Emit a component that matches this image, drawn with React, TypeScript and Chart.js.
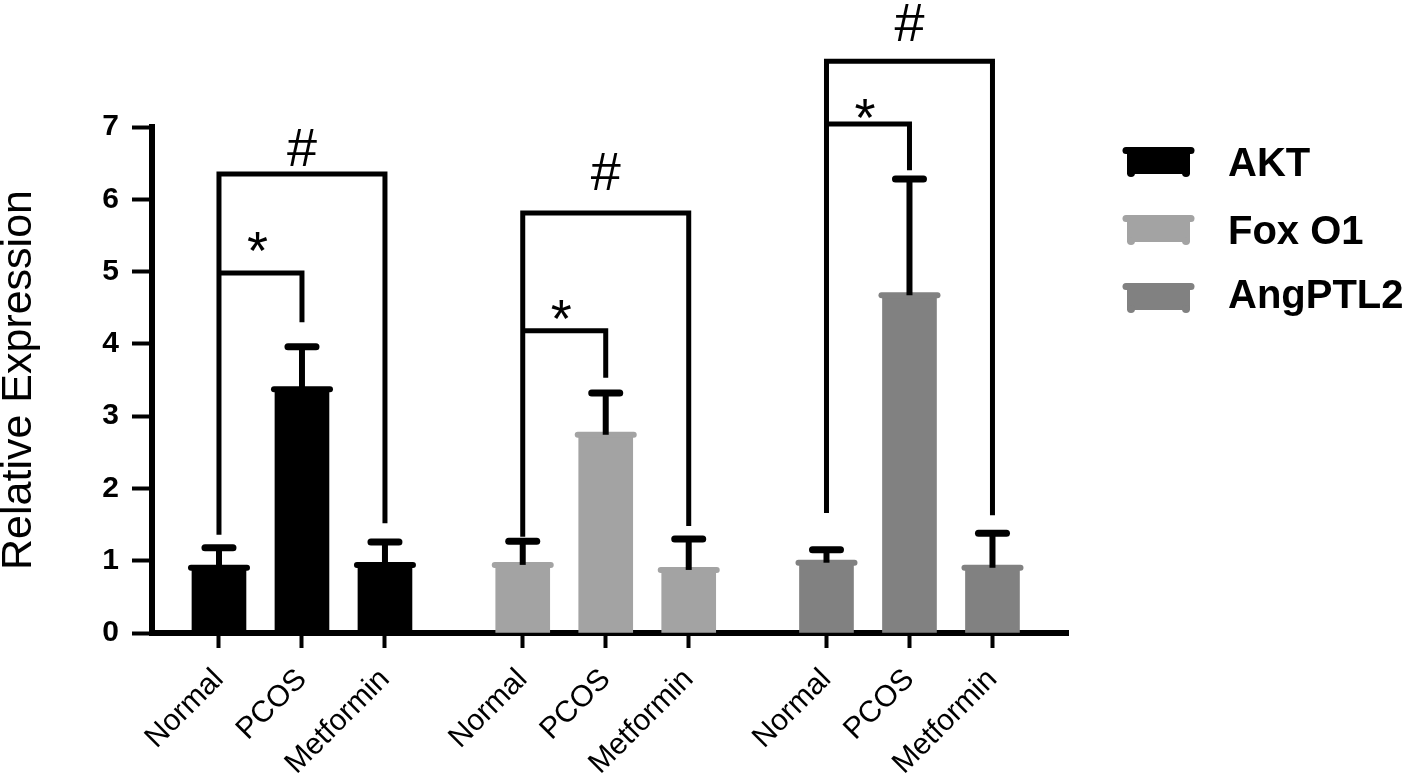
import React, { useEffect, useRef } from 'react';
import { Chart, registerables } from 'chart.js';

Chart.register(...registerables);

// ---------- data ----------
const genes = ['AKT', 'Fox O1', 'AngPTL2'];
const conditions = ['Normal', 'PCOS', 'Metformin'];
const aktMeans = [0.93, 3.4, 0.97];
const aktErrors = [0.25, 0.56, 0.29];
const foxMeans = [0.97, 2.77, 0.9];
const foxErrors = [0.3, 0.55, 0.4];
const angMeans = [1.0, 4.7, 0.93];
const angErrors = [0.15, 1.58, 0.45];
const yTickValues = [0, 1, 2, 3, 4, 5, 6, 7];

// significance brackets (y-axis units)
const hashLevels = [6.35, 5.81, 7.91];
const hashLeftEnds = [1.36, 1.33, 1.66];
const hashRightEnds = [1.52, 1.48, 1.63];
const hashLabelLevels = [6.71, 6.38, 8.45];
const starLevels = [4.98, 4.18, 7.04];
const starEnds = [4.3, 3.53, 6.4];
const starLabelLevels = [5.41, 4.47, 7.26];

// ---------- styling / layout ----------
const geneColors = ['#000000', '#a3a3a3', '#818181'];
const GROUP_SPACING = 3.66; // x-axis units between groups
const FONT = "'Liberation Sans', Arial, Helvetica, sans-serif";

const allMeans = [aktMeans, foxMeans, angMeans];
const allErrors = [aktErrors, foxErrors, angErrors];
const pos = (g: number, c: number) => g * GROUP_SPACING + c;
const tickPositions: number[] = [];
genes.forEach((_, g) => conditions.forEach((__, c) => tickPositions.push(pos(g, c))));

function centeredText(ctx: CanvasRenderingContext2D, text: string, x: number, cy: number, align: CanvasTextAlign) {
  ctx.textAlign = align;
  ctx.textBaseline = 'alphabetic';
  const m = ctx.measureText(text);
  const asc = m.actualBoundingBoxAscent;
  const desc = m.actualBoundingBoxDescent;
  ctx.fillText(text, x, cy + (asc - desc) / 2);
}

const overlayPlugin = {
  id: 'overlay',
  afterDatasetsDraw(chart: any) {
    const ctx: CanvasRenderingContext2D = chart.ctx;
    const xs = chart.scales.x;
    const ys = chart.scales.y;
    ctx.save();
    // bar lips and error bars
    chart.data.datasets.forEach((ds: any, di: number) => {
      const meta = chart.getDatasetMeta(di);
      meta.data.forEach((bar: any, i: number) => {
        const { x, y, width } = bar.getProps(['x', 'y', 'width'], true);
        ctx.strokeStyle = ds.backgroundColor;
        ctx.lineWidth = 6;
        ctx.lineCap = 'round';
        ctx.beginPath();
        ctx.moveTo(x - width / 2 - 1, y + 2);
        ctx.lineTo(x + width / 2 + 1, y + 2);
        ctx.stroke();

        const topPx = ys.getPixelForValue(allMeans[di][i] + allErrors[di][i]);
        ctx.strokeStyle = '#000';
        ctx.lineCap = 'butt';
        ctx.lineWidth = 6;
        ctx.beginPath();
        ctx.moveTo(x, y + 2);
        ctx.lineTo(x, topPx);
        ctx.stroke();
        ctx.lineCap = 'round';
        ctx.lineWidth = 7;
        ctx.beginPath();
        ctx.moveTo(x - 14, topPx);
        ctx.lineTo(x + 14, topPx);
        ctx.stroke();
      });
    });

    // significance brackets
    ctx.strokeStyle = '#000';
    ctx.fillStyle = '#000';
    ctx.lineWidth = 5;
    ctx.lineCap = 'butt';
    ctx.lineJoin = 'miter';
    genes.forEach((_, g) => {
      const xN = xs.getPixelForValue(pos(g, 0));
      const xP = xs.getPixelForValue(pos(g, 1));
      const xM = xs.getPixelForValue(pos(g, 2));
      const hy = ys.getPixelForValue(hashLevels[g]);
      ctx.beginPath();
      ctx.moveTo(xN, ys.getPixelForValue(hashLeftEnds[g]));
      ctx.lineTo(xN, hy);
      ctx.lineTo(xM, hy);
      ctx.lineTo(xM, ys.getPixelForValue(hashRightEnds[g]));
      ctx.stroke();
      const sy = ys.getPixelForValue(starLevels[g]);
      ctx.beginPath();
      ctx.moveTo(xN, sy);
      ctx.lineTo(xP, sy);
      ctx.lineTo(xP, ys.getPixelForValue(starEnds[g]));
      ctx.stroke();

      ctx.font = `54px ${FONT}`;
      centeredText(ctx, '#', (xN + xM) / 2, ys.getPixelForValue(hashLabelLevels[g]), 'center');
      centeredText(ctx, '*', (xN + xP) / 2 - 3, ys.getPixelForValue(starLabelLevels[g]), 'center');
    });
    ctx.restore();
  },
  afterDraw(chart: any) {
    const ctx: CanvasRenderingContext2D = chart.ctx;
    const area = chart.chartArea;
    ctx.save();
    genes.forEach((gene, g) => {
      const color = geneColors[g];
      const bx = area.right + 54;
      const cy = area.top + 35 + g * 68;
      const w = 73;
      const h = 30;
      const top = cy - h / 2;
      const bottom = cy + h / 2;
      ctx.fillStyle = color;
      ctx.fillRect(bx + 5, top + 3, w - 10, h - 6);
      ctx.strokeStyle = color;
      ctx.lineWidth = 7;
      ctx.lineCap = 'round';
      ctx.beginPath();
      ctx.moveTo(bx + 4, top + 3.5);
      ctx.lineTo(bx + w - 4, top + 3.5);
      ctx.stroke();
      ctx.beginPath();
      ctx.arc(bx + 9, bottom - 4, 4, 0, Math.PI * 2);
      ctx.fill();
      ctx.beginPath();
      ctx.arc(bx + w - 9, bottom - 4, 4, 0, Math.PI * 2);
      ctx.fill();

      ctx.fillStyle = '#000';
      ctx.font = `bold 40px ${FONT}`;
      centeredText(ctx, gene, bx + 106, cy, 'left');
    });
    ctx.restore();
  },
};

export default function App() {
  const canvasRef = useRef<HTMLCanvasElement | null>(null);

  useEffect(() => {
    if (!canvasRef.current) return;
    Chart.defaults.font.family = FONT;
    Chart.defaults.color = '#000';
    const datasets = genes.map((gene, g) => ({
      label: gene,
      data: allMeans[g].map((v, c) => ({ x: pos(g, c), y: v })),
      backgroundColor: geneColors[g],
      borderWidth: 0,
      barThickness: 54,
      grouped: false,
    }));
    const chart = new Chart(canvasRef.current, {
      type: 'bar',
      data: { datasets },
      plugins: [overlayPlugin],
      options: {
        animation: false,
        responsive: true,
        maintainAspectRatio: false,
        layout: { padding: { top: 127, right: 350, bottom: 0, left: 0 } },
        plugins: {
          legend: { display: false },
          tooltip: { enabled: false },
        },
        scales: {
          x: {
            type: 'linear',
            min: -0.807,
            max: 10.23,
            offset: false,
            afterBuildTicks: (scale: any) => {
              scale.ticks = tickPositions.map((v) => ({ value: v }));
            },
            afterFit: (scale: any) => {
              scale.height = 140;
            },
            ticks: {
              autoSkip: false,
              maxRotation: 45,
              minRotation: 45,
              padding: 14,
              color: '#000',
              font: { size: 30, family: FONT },
              callback: (_v: any, i: number) => conditions[i % conditions.length],
            },
            grid: {
              display: true,
              offset: false,
              drawOnChartArea: false,
              drawTicks: true,
              tickLength: 15,
              tickWidth: 4,
              tickColor: '#000',
            },
            border: { display: true, width: 6, color: '#000' },
          },
          y: {
            type: 'linear',
            min: 0,
            max: 7,
            afterBuildTicks: (scale: any) => {
              scale.ticks = yTickValues.map((v) => ({ value: v }));
            },
            afterFit: (scale: any) => {
              scale.width = 152;
            },
            ticks: {
              padding: 13,
              color: '#000',
              font: { size: 30, weight: 'bold', family: FONT },
            },
            grid: {
              display: true,
              drawOnChartArea: false,
              drawTicks: true,
              tickLength: 20,
              tickWidth: 4,
              tickColor: '#000',
            },
            border: { display: true, width: 6, color: '#000' },
            title: {
              display: true,
              text: 'Relative Expression',
              color: '#000',
              font: { size: 43, family: FONT, lineHeight: 0.88 },
              padding: { top: 0, bottom: 0 },
            },
          },
        },
      } as any,
    });
    return () => chart.destroy();
  }, []);

  return (
    <div
      style={{
        position: 'absolute',
        left: 0,
        top: 0,
        width: 1418,
        height: 773,
        overflow: 'hidden',
        background: '#fff',
      }}
    >
      <canvas ref={canvasRef} />
    </div>
  );
}
